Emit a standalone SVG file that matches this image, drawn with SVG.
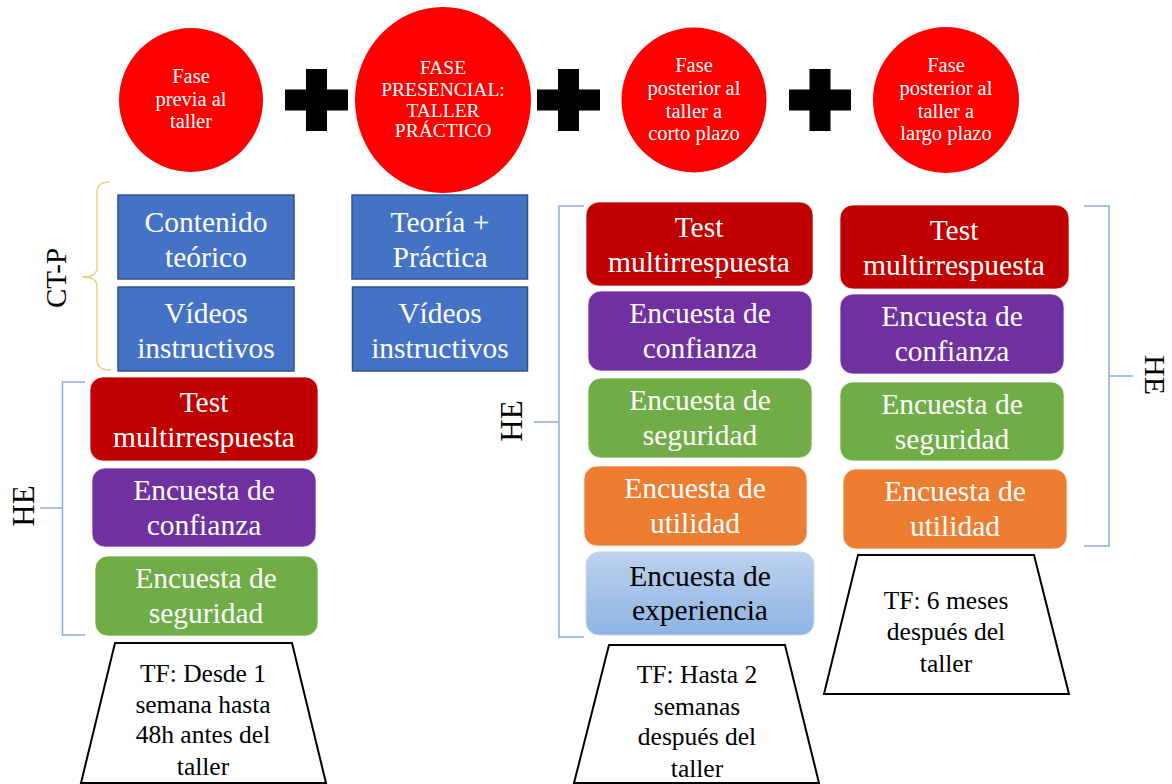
<svg xmlns="http://www.w3.org/2000/svg" width="1172" height="784" viewBox="0 0 1172 784">
<style>
.ph{fill:#FF0000}
.pt{font-family:"Liberation Serif",serif;fill:#fff;text-anchor:middle;font-size:20.5px}
.bt{font-family:"Liberation Serif",serif;fill:#fff;text-anchor:middle;font-size:29.5px}
.tt{font-family:"Liberation Serif",serif;fill:#000;text-anchor:middle;font-size:25.5px}
.lab{font-family:"Liberation Serif",serif;fill:#000;text-anchor:middle;font-size:31px}
.blue{fill:#4472C4;stroke:#2F528F;stroke-width:1.5}
.rb{stroke:#fff;stroke-width:1;stroke-opacity:0.7}
.red{fill:#C00000}
.pur{fill:#7030A0}
.grn{fill:#70AD47}
.org{fill:#ED7D31}
.trap{fill:#fff;stroke:#000;stroke-width:2}
.plus{fill:#000}
.br{fill:none;stroke:#8FAADC;stroke-width:1.5}
.brc{fill:none;stroke:#F5CE85;stroke-width:1.5}
</style>
<defs>
<linearGradient id="gexp" x1="0" y1="0" x2="0" y2="1">
<stop offset="0" stop-color="#BCD1EC"/>
<stop offset="1" stop-color="#8EB4E3"/>
</linearGradient>
</defs>

<!-- phases -->
<g id="fase-previa">
<circle class="ph" cx="191" cy="100" r="72"/>
<text class="pt" x="191" y="83">Fase</text>
<text class="pt" x="191" y="106">previa al</text>
<text class="pt" x="191" y="128">taller</text>
</g>
<g id="plus1" class="plus"><rect x="285" y="89.5" width="63" height="21"/><rect x="306" y="69" width="21" height="62"/></g>
<g id="fase-presencial">
<ellipse class="ph" cx="443" cy="100" rx="88" ry="93"/>
<text class="pt" style="font-size:19.5px" x="443" y="74">FASE</text>
<text class="pt" style="font-size:19.5px" x="443" y="96">PRESENCIAL:</text>
<text class="pt" style="font-size:19.5px" x="443" y="117">TALLER</text>
<text class="pt" style="font-size:19.5px" x="443" y="137">PRÁCTICO</text>
</g>
<g id="plus2" class="plus"><rect x="537" y="89.5" width="63" height="21"/><rect x="558" y="69" width="21" height="62"/></g>
<g id="fase-corto">
<circle class="ph" cx="694" cy="100" r="72.5"/>
<text class="pt" x="694" y="72">Fase</text>
<text class="pt" x="694" y="95">posterior al</text>
<text class="pt" x="694" y="118">taller a</text>
<text class="pt" x="694" y="140">corto plazo</text>
</g>
<g id="plus3" class="plus"><rect x="789" y="89.5" width="62" height="21"/><rect x="809.5" y="69" width="21" height="62"/></g>
<g id="fase-largo">
<circle class="ph" cx="946" cy="100" r="73"/>
<text class="pt" x="946" y="72">Fase</text>
<text class="pt" x="946" y="95">posterior al</text>
<text class="pt" x="946" y="118">taller a</text>
<text class="pt" x="946" y="140">largo plazo</text>
</g>

<!-- brackets -->
<g id="connectors">
<path class="brc" d="M110,182 Q97,182 97,192 L97,268 Q97,277 82,277 Q97,277 97,286 L97,361 Q97,370 111,370"/>
<path class="br" d="M85,382 H62.5 V635 H85 M40,508 H62.5"/>
<path class="br" d="M584,206 H559 V637 H584 M534,422 H559"/>
<path class="br" d="M1084,206 H1109 V546 H1084 M1109,376 H1133"/>
</g>

<g id="label-ctp"><text class="lab" style="font-size:29px" transform="translate(65.5,278) rotate(-90)">CT-P</text></g>
<g id="label-he-left"><text class="lab" transform="translate(33.5,506) rotate(-90)">HE</text></g>
<g id="label-he-mid"><text class="lab" transform="translate(521.5,421) rotate(-90)">HE</text></g>
<g id="label-he-right"><text class="lab" style="font-size:30px" transform="translate(1145,375) rotate(90)">HE</text></g>

<!-- blue boxes -->
<g id="contenido"><rect class="blue" x="118" y="195" width="176" height="84"/>
<text class="bt" x="206" y="232">Contenido</text><text class="bt" x="206" y="266.5">teórico</text></g>
<g id="videos1"><rect class="blue" x="118" y="287" width="176" height="84"/>
<text class="bt" x="206" y="323">Vídeos</text><text class="bt" x="206" y="358">instructivos</text></g>
<g id="teoria"><rect class="blue" x="352" y="195" width="175.5" height="84"/>
<text class="bt" x="440" y="232">Teoría +</text><text class="bt" x="440" y="266.5">Práctica</text></g>
<g id="videos2"><rect class="blue" x="352.5" y="287" width="175" height="84"/>
<text class="bt" x="440" y="323">Vídeos</text><text class="bt" x="440" y="358">instructivos</text></g>

<!-- left column -->
<g id="test1"><rect class="red rb" x="90" y="377" width="228" height="84" rx="13"/>
<text class="bt" x="204" y="412">Test</text><text class="bt" x="204" y="446.5">multirrespuesta</text></g>
<g id="conf1"><rect class="pur rb" x="92" y="468" width="224" height="79" rx="13"/>
<text class="bt" x="204" y="499.5">Encuesta de</text><text class="bt" x="204" y="535">confianza</text></g>
<g id="seg1"><rect class="grn rb" x="95" y="556" width="223" height="80" rx="13"/>
<text class="bt" x="206" y="588">Encuesta de</text><text class="bt" x="206" y="623">seguridad</text></g>
<g id="tf1"><polygon class="trap" points="115,643 292,643 326,783 81,783"/>
<text class="tt" x="203" y="682">TF: Desde 1</text>
<text class="tt" x="203" y="713">semana  hasta</text>
<text class="tt" x="203" y="743">48h antes del</text>
<text class="tt" x="203" y="775">taller</text></g>

<!-- middle column -->
<g id="test2"><rect class="red rb" x="586" y="202" width="227" height="84" rx="13"/>
<text class="bt" x="699" y="237">Test</text><text class="bt" x="699" y="271.5">multirrespuesta</text></g>
<g id="conf2"><rect class="pur rb" x="588" y="291" width="224" height="80" rx="13"/>
<text class="bt" x="700" y="323">Encuesta de</text><text class="bt" x="700" y="358">confianza</text></g>
<g id="seg2"><rect class="grn rb" x="588" y="378" width="224" height="80" rx="13"/>
<text class="bt" x="700" y="410">Encuesta de</text><text class="bt" x="700" y="445">seguridad</text></g>
<g id="util2"><rect class="org rb" x="584" y="466" width="223" height="80" rx="13"/>
<text class="bt" x="695" y="498">Encuesta de</text><text class="bt" x="695" y="533">utilidad</text></g>
<g id="exp2"><rect fill="url(#gexp)" stroke="#C9D9EE" stroke-width="1" x="586" y="552" width="228" height="83" rx="13"/>
<text class="bt" style="fill:#000" x="700" y="586">Encuesta de</text><text class="bt" style="fill:#000" x="700" y="620">experiencia</text></g>
<g id="tf2"><polygon class="trap" points="609,645 785,645 819,783 574,783"/>
<text class="tt" x="697" y="683">TF: Hasta 2</text>
<text class="tt" x="697" y="715">semanas</text>
<text class="tt" x="697" y="745">después  del</text>
<text class="tt" x="697" y="777">taller</text></g>

<!-- right column -->
<g id="test3"><rect class="red rb" x="840" y="205" width="229" height="84" rx="13"/>
<text class="bt" x="954" y="240">Test</text><text class="bt" x="954" y="274.5">multirrespuesta</text></g>
<g id="conf3"><rect class="pur rb" x="840" y="294" width="224" height="80" rx="13"/>
<text class="bt" x="952" y="326">Encuesta de</text><text class="bt" x="952" y="361">confianza</text></g>
<g id="seg3"><rect class="grn rb" x="840" y="382" width="224" height="79" rx="13"/>
<text class="bt" x="952" y="413.5">Encuesta de</text><text class="bt" x="952" y="448.5">seguridad</text></g>
<g id="util3"><rect class="org rb" x="843" y="469" width="224" height="80" rx="13"/>
<text class="bt" x="955" y="501">Encuesta de</text><text class="bt" x="955" y="536">utilidad</text></g>
<g id="tf3"><polygon class="trap" points="858,555 1034,555 1069,694 824,694"/>
<text class="tt" x="946" y="609">TF: 6 meses</text>
<text class="tt" x="946" y="640">después  del</text>
<text class="tt" x="946" y="672">taller</text></g>
</svg>
